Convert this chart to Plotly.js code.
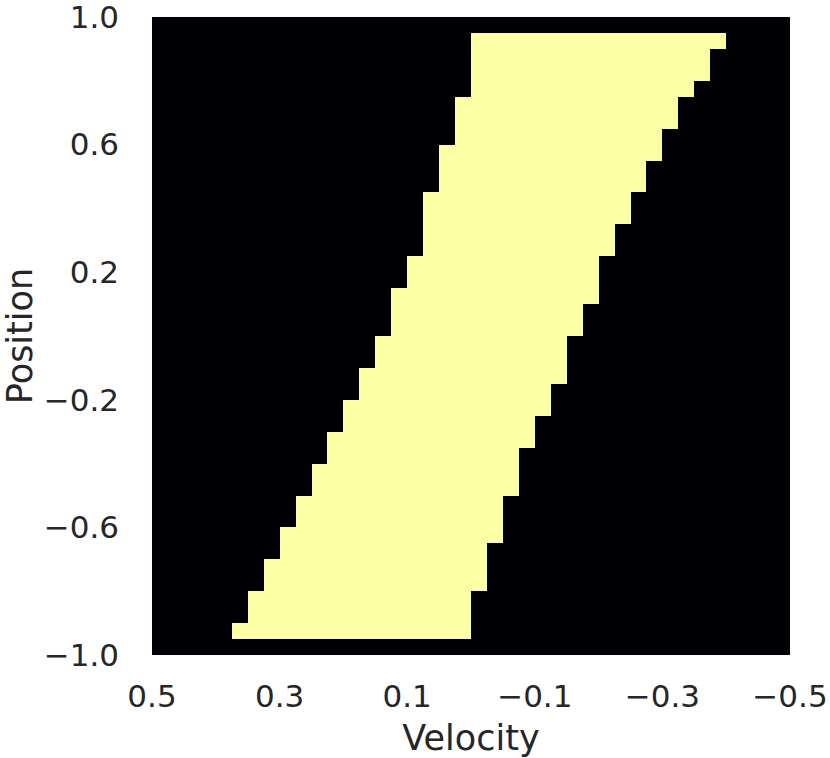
<!DOCTYPE html>
<html>
<head>
<meta charset="utf-8">
<script src="https://cdn.plot.ly/plotly-3.0.1.min.js"></script>
<style>
  body { margin: 0; background: #fff; }
  #chart { width: 830px; height: 758px; }
</style>
</head>
<body>
<div id="chart"></div>
<script>
// cell centres of the grid
const velocity = [0.4875, 0.4625, 0.4375, 0.4125, 0.3875, 0.3625, 0.3375, 0.3125, 0.2875, 0.2625,
                  0.2375, 0.2125, 0.1875, 0.1625, 0.1375, 0.1125, 0.0875, 0.0625, 0.0375, 0.0125,
                  -0.0125, -0.0375, -0.0625, -0.0875, -0.1125, -0.1375, -0.1625, -0.1875, -0.2125, -0.2375,
                  -0.2625, -0.2875, -0.3125, -0.3375, -0.3625, -0.3875, -0.4125, -0.4375, -0.4625, -0.4875];
const position = [0.975, 0.925, 0.875, 0.825, 0.775, 0.725, 0.675, 0.625, 0.575, 0.525,
                  0.475, 0.425, 0.375, 0.325, 0.275, 0.225, 0.175, 0.125, 0.075, 0.025,
                  -0.025, -0.075, -0.125, -0.175, -0.225, -0.275, -0.325, -0.375, -0.425, -0.475,
                  -0.525, -0.575, -0.625, -0.675, -0.725, -0.775, -0.825, -0.875, -0.925, -0.975];

// for each row (top to bottom): velocity band that is "on"
const velHigh = [null, 0, 0, 0, 0, 0.025, 0.025, 0.025, 0.05, 0.05,
                 0.05, 0.075, 0.075, 0.075, 0.075, 0.1, 0.1, 0.125, 0.125, 0.125,
                 0.15, 0.15, 0.175, 0.175, 0.2, 0.2, 0.225, 0.225, 0.25, 0.25,
                 0.275, 0.275, 0.3, 0.3, 0.325, 0.325, 0.35, 0.35, 0.375, null];
const velLow = [null, -0.4, -0.375, -0.375, -0.35, -0.325, -0.325, -0.3, -0.3, -0.275,
                -0.275, -0.25, -0.25, -0.225, -0.225, -0.2, -0.2, -0.2, -0.175, -0.175,
                -0.15, -0.15, -0.15, -0.125, -0.125, -0.1, -0.1, -0.075, -0.075, -0.075,
                -0.05, -0.05, -0.05, -0.025, -0.025, -0.025, 0, 0, 0, null];

const xTicks = [0.5, 0.3, 0.1, -0.1, -0.3, -0.5];
const yTicks = [1.0, 0.6, 0.2, -0.2, -0.6, -1.0];

// build the 0/1 grid
const z = position.map((p, i) => velocity.map(v => {
    if (velHigh[i] === null) return 0;
    return (v < velHigh[i] && v > velLow[i]) ? 1 : 0;
}));

const trace = {
    type: 'heatmap',
    x: velocity,
    y: position,
    z: z,
    zmin: 0,
    zmax: 1,
    colorscale: [[0, '#000004'], [1, '#fcffa4']],
    showscale: false,
    hoverinfo: 'skip'
};

const fontFam = 'DejaVu Sans, sans-serif';
const layout = {
    width: 830,
    height: 758,
    margin: { l: 152, r: 40, t: 17, b: 103 },
    paper_bgcolor: '#fff',
    plot_bgcolor: '#000004',
    font: { family: fontFam, color: '#262626' },
    xaxis: {
        range: [0.5, -0.5],
        tickvals: xTicks,
        tickformat: '.1f',
        ticks: '',
        ticklabelstandoff: 20,
        ticklabeloverflow: 'allow',
        showgrid: false,
        zeroline: false,
        tickfont: { size: 31 },
        title: { text: 'Velocity', font: { size: 35 }, standoff: 14 }
    },
    yaxis: {
        range: [-1, 1],
        tickvals: yTicks,
        tickformat: '.1f',
        ticks: '',
        ticklabelstandoff: 32,
        ticklabeloverflow: 'allow',
        showgrid: false,
        zeroline: false,
        tickfont: { size: 31 },
        title: { text: 'Position', font: { size: 35 }, standoff: 16 }
    }
};

Plotly.newPlot('chart', [trace], layout, { displayModeBar: false, staticPlot: true });
</script>
</body>
</html>
